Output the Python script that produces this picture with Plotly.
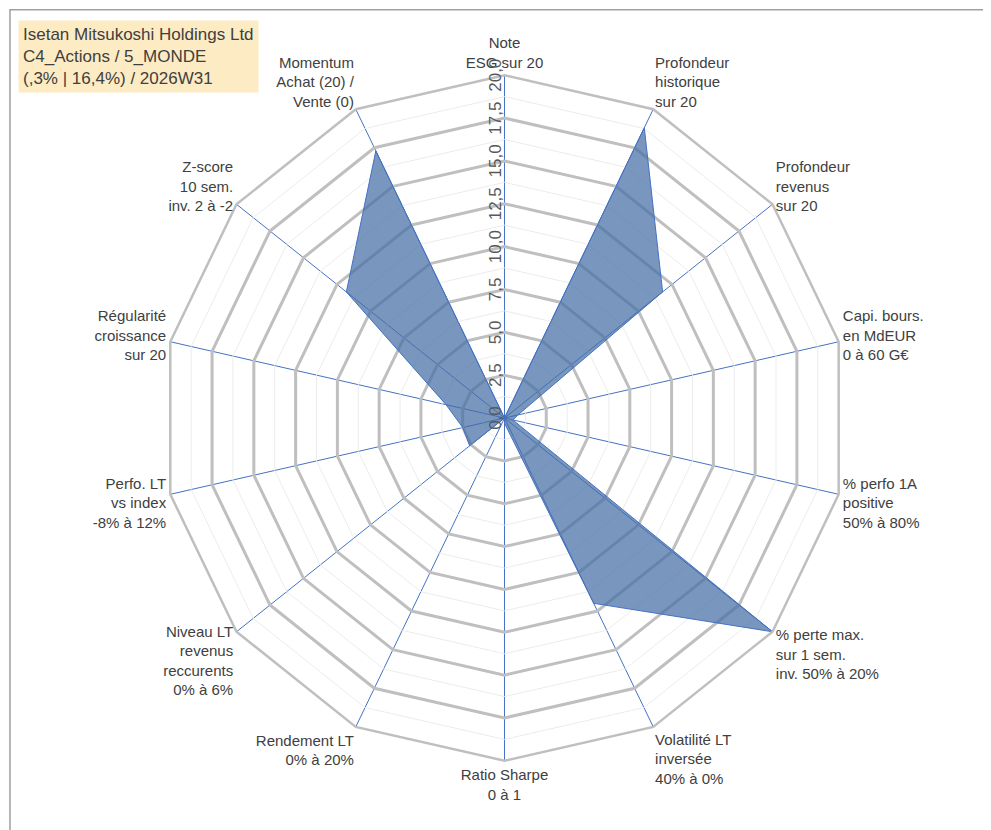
import plotly.graph_objects as go

# criteria around the radar, clockwise from top
categories = [
    "Note<br>ESG sur 20",
    "Profondeur<br>historique<br>sur 20",
    "Profondeur<br>revenus<br>sur 20",
    "Capi. bours.<br>en MdEUR<br>0 à 60 G€",
    "% perfo 1A<br>positive<br>50% à 80%",
    "% perte max.<br>sur 1 sem.<br>inv. 50% à 20%",
    "Volatilité LT<br>inversée<br>40% à 0%",
    "Ratio Sharpe<br>0 à 1",
    "Rendement LT<br>0% à 20%",
    "Niveau LT<br>revenus<br>reccurents<br>0% à 6%",
    "Perfo. LT<br>vs index<br>-8% à 12%",
    "Régularité<br>croissance<br>sur 20",
    "Z-score<br>10 sem.<br>inv. 2 à -2",
    "Momentum<br>Achat (20) /<br>Vente (0)",
]
scores = [0, 18.8, 11.8, 0.8, 0.5, 20, 12, 0.3, 0, 2.6, 2.5, 3.5, 11.8, 17.3]
tick_vals = [0, 2.5, 5, 7.5, 10, 12.5, 15, 17.5, 20]
minor_vals = [1.25, 3.75, 6.25, 8.75, 11.25, 13.75, 16.25, 18.75]

title_lines = ["Isetan Mitsukoshi Holdings Ltd", "C4_Actions / 5_MONDE",
               "(,3% | 16,4%) / 2026W31"]

fig = go.Figure()
# faint minor rings
for v in minor_vals:
    fig.add_trace(go.Scatterpolar(
        r=[v] * (len(categories) + 1), theta=categories + categories[:1],
        mode="lines", line=dict(color="#ececec", width=1), hoverinfo="skip",
    ))
fig.add_trace(go.Scatterpolar(
    r=scores + scores[:1], theta=categories + categories[:1],
    fill="toself", fillcolor="rgba(68,110,165,0.72)",
    line=dict(color="#4472c4", width=1), mode="lines", hoverinfo="skip",
))

fig.update_layout(
    width=991, height=830, showlegend=False,
    paper_bgcolor="white", separators=", ",
    margin=dict(l=0, r=0, t=0, b=0),
    font=dict(family="Liberation Sans, Arial", color="#404040"),
    polar=dict(
        domain=dict(x=[0.155, 0.847], y=[0.093, 0.919]),
        gridshape="linear", bgcolor="white",
        radialaxis=dict(
            range=[0, 20], tickvals=tick_vals, tickformat=".1f",
            angle=90, tickangle=0, side="counterclockwise",
            showline=False, ticks="",
            gridcolor="#bfbfbf", gridwidth=2.5,
            tickfont=dict(size=17, color="#595959", family="Liberation Sans, Arial Black"),
        ),
        angularaxis=dict(
            direction="clockwise", rotation=90,
            gridcolor="#4472c4", gridwidth=1.2,
            linecolor="#bfbfbf", linewidth=2.5, ticks="",
            tickfont=dict(size=15, color="#404040"),
        ),
    ),
)

fig.add_annotation(
    x=0.01, y=0.985, xref="paper", yref="paper", xanchor="left", yanchor="top",
    text="<br>".join(title_lines), align="left", showarrow=False,
    bgcolor="rgba(253,230,180,0.8)", borderpad=4,
    font=dict(size=17, color="#404040", family="Liberation Sans"),
)
fig.add_shape(type="rect", xref="paper", yref="paper", x0=0.002, y0=0.002,
              x1=0.998, y1=0.998, line=dict(color="#a0a0a0", width=1.5))

fig.write_html("out.html")
